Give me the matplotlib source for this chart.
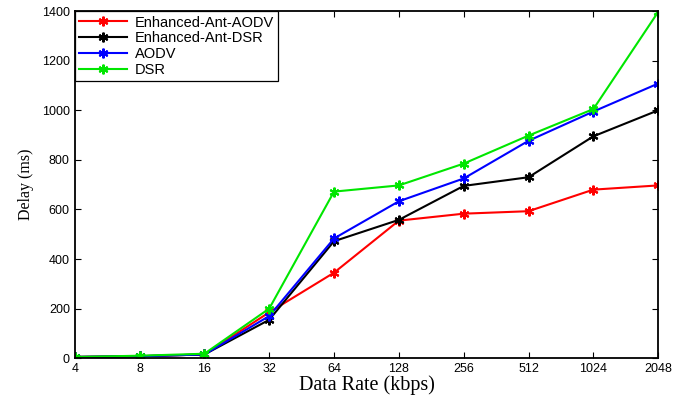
import matplotlib.pyplot as plt
import numpy as np

rates = ['4', '8', '16', '32', '64', '128', '256', '512', '1024', '2048']
ant_aodv = [5, 8, 15, 185, 345, 555, 583, 593, 680, 697]
ant_dsr = [5, 8, 15, 155, 472, 558, 695, 730, 895, 1000]
aodv = [5, 8, 15, 170, 483, 633, 725, 877, 995, 1108]
dsr = [5, 10, 18, 200, 672, 697, 785, 898, 1005, 1397]

x = np.arange(len(rates))

fig = plt.figure(figsize=(6.73, 3.98), dpi=100)
ax = fig.add_axes([0.111, 0.100, 0.867, 0.872])

series = [
    ('Enhanced-Ant-AODV', ant_aodv, '#ff0000'),
    ('Enhanced-Ant-DSR', ant_dsr, '#000000'),
    ('AODV', aodv, '#0000ff'),
    ('DSR', dsr, '#00e600'),
]
for name, vals, col in series:
    ax.plot(x, vals, color=col, lw=1.5, marker=(6, 2, 0), ms=7, mew=1.5,
            label=name)

ax.set_xlim(0, len(rates) - 1)
ax.set_ylim(0, 1400)
ax.set_xticks(x)
ax.set_xticklabels(rates)
ax.set_yticks(np.arange(0, 1401, 200))
ax.tick_params(direction='in', top=True, right=True, labelsize=9, length=4)
for lab in ax.get_xticklabels() + ax.get_yticklabels():
    lab.set_family('Liberation Sans')
for s in ax.spines.values():
    s.set_linewidth(1.3)

ax.set_xlabel('Data Rate (kbps)', family='Liberation Serif', fontsize=14.5, labelpad=0)
ax.set_ylabel('Delay (ms)', family='Liberation Serif', fontsize=11.5, labelpad=6)

leg = ax.legend(loc='upper left', prop={'family': 'Liberation Sans', 'size': 10.5},
                fancybox=False, framealpha=1, edgecolor='black',
                borderaxespad=0, handlelength=3.3, labelspacing=0.12,
                borderpad=0.3, handletextpad=0.5)
leg.get_frame().set_linewidth(0.9)

fig.savefig('out.png', dpi=100)
